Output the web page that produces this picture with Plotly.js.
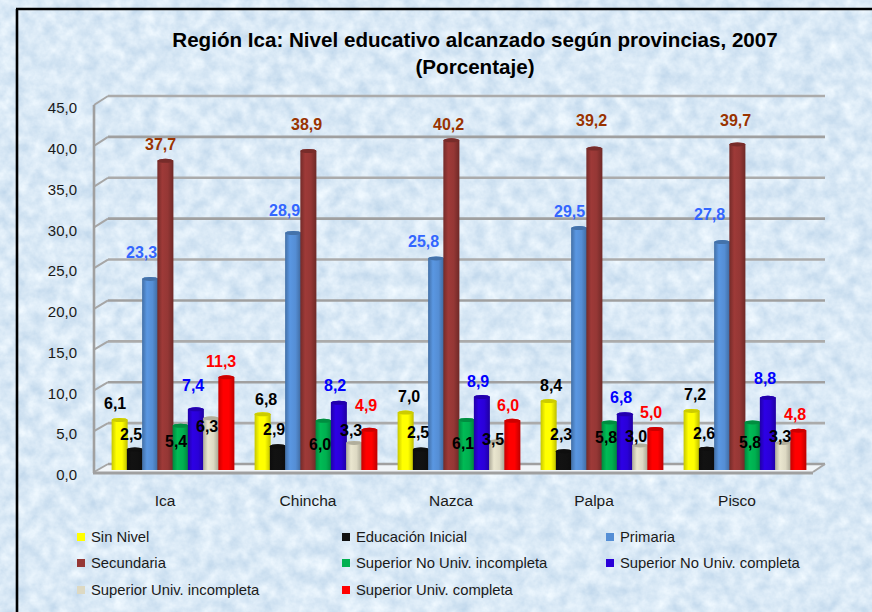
<!DOCTYPE html>
<html><head><meta charset="utf-8">
<script src="https://cdn.plot.ly/plotly-3.0.1.min.js"></script>
<style>html,body{margin:0;padding:0;width:872px;height:612px;overflow:hidden;background:#dbe8f5}
#bg{position:absolute;left:0;top:0}#chart{position:absolute;left:0;top:0;width:872px;height:612px}</style>
</head><body>
<svg id="bg" width="872" height="612"><filter id="n" x="0" y="0" width="100%" height="100%" color-interpolation-filters="sRGB">
<feTurbulence type="fractalNoise" baseFrequency="0.07" numOctaves="4" seed="7"/>
<feColorMatrix values="0.24 0 0 0 0.735  0.17 0 0 0 0.83  0.1 0 0 0 0.915  0 0 0 0 1"/></filter>
<rect width="872" height="612" filter="url(#n)"/></svg>
<div id="chart"></div>
<script>
const provincias = ['Ica','Chincha','Nazca','Palpa','Pisco'];
const sinNivel        = [6.1,6.8,7.0,8.4,7.2];
const educInicial     = [2.5,2.9,2.5,2.3,2.6];
const primaria        = [23.3,28.9,25.8,29.5,27.8];
const secundaria      = [37.7,38.9,40.2,39.2,39.7];
const noUnivIncompl   = [5.4,6.0,6.1,5.8,5.8];
const noUnivCompl     = [7.4,8.2,8.9,6.8,8.8];
const univIncompl     = [6.3,3.3,3.5,3.0,3.3];
const univCompl       = [11.3,4.9,6.0,5.0,4.8];
const serieNombres = ['Sin Nivel','Educación Inicial','Primaria','Secundaria','Superior No Univ. incompleta','Superior No Univ. completa','Superior Univ. incompleta','Superior Univ. completa'];
const serieValores = [sinNivel,educInicial,primaria,secundaria,noUnivIncompl,noUnivCompl,univIncompl,univCompl];
const serieColores = ['#ffff00','#111111','#558ed5','#953735','#00b050','#2a00d8','#ddd9c3','#ff0000'];
const etiquetaColores = ['#000000','#000000','#3366ff','#993300','#000000','#0000ff','#000000','#ff0000'];
const yTicks = [0,5,10,15,20,25,30,35,40,45];
const titulo = 'Región Ica: Nivel educativo alcanzado según provincias, 2007<br>(Porcentaje)';

// label offsets relative to each bar's centre/top, px [dx, dy] by series, then province
const labelDx = [[-5,3,3,2,3],[-4,-4,-3,-3,-3],[-9,-9,-13,-10,-13],[-5,-2,-3,-3,-2],[-5,-4,-4,-4,-3],[-3,-4,-4,-4,-3],[-4,-3,-4,-4,-3],[-5,-3,-4,-4,-3]];
const labelDy = [[-16,-15,-16,-16,-16],[-15,-17,-17,-17,-15],[-26,-23,-17,-17,-28],[-16,-27,-16,-28,-24],[16,24,24,15,20],[-24,-17,-16,-17,-19],[8,-12,-2,-9,-6],[-16,-24,-15,-17,-16]];

const W=872,H=612, font='"Liberation Sans", Arial, sans-serif';
const px=x=>x/W, py=y=>1-y/H;
const barStep=15.25;
const backY=v=>464-v*8.178, frontY=v=>472-v*8.155;
const shapes=[];
const line=(x0,y0,x1,y1,color,width)=>shapes.push({type:'line',xref:'paper',yref:'paper',x0:px(x0),y0:py(y0),x1:px(x1),y1:py(y1),line:{color,width},layer:'below'});
// frame
line(17,612,17,9,'#000',2.6); line(16,9,872,9,'#000',2.4);
// floor
shapes.push({type:'path',xref:'paper',yref:'paper',layer:'below',fillcolor:'#f1f5f8',line:{width:0},
 path:`M${px(94)},${py(472)}L${px(813)},${py(472)}L${px(825)},${py(464)}L${px(108)},${py(464)}Z`});
yTicks.forEach(v=>{
  line(108,backY(v),825,backY(v),v%10===0?'#a0a0a0':'#ababab',2.6);
  line(94,frontY(v),108,backY(v),'#a6a6a6',2);
});
line(813,472,825,464,'#a6a6a6',2);
line(93,473,813,473,'#a0a0a0',3);
line(94,frontY(45),94,473,'#a0a0a0',2.6);

const traces=serieValores.map((vals,i)=>({type:'bar',name:serieNombres[i],x:provincias,y:vals,
  marker:{color:serieColores[i],line:{width:0}},hoverinfo:'skip'}));
// axis carrying the front-wall tick labels
traces.push({type:'scatter',x:[],y:[],yaxis:'y2',showlegend:false,hoverinfo:'skip'});

const annotations=[];
serieValores.forEach((vals,i)=>vals.forEach((v,j)=>{
  annotations.push({x:provincias[j],y:v,xref:'x',yref:'y',showarrow:false,
    text:v.toFixed(1).replace('.',','),xanchor:'center',yanchor:'middle',
    xshift:(i-3.5)*barStep+labelDx[i][j],yshift:-labelDy[i][j],
    font:{family:font,size:16,color:etiquetaColores[i],weight:700}});
}));
// legend
const legX=[81,346,610], legY=[537,563,590];
serieNombres.forEach((n,i)=>{
  const c=i%3,r=Math.floor(i/3);
  shapes.push({type:'rect',xref:'paper',yref:'paper',layer:'above',fillcolor:serieColores[i],line:{width:0},
    x0:px(legX[c]-4),x1:px(legX[c]+4),y0:py(legY[r]-4),y1:py(legY[r]+4)});
  annotations.push({xref:'paper',yref:'paper',x:px(legX[c]+8),y:py(legY[r]),xanchor:'left',yanchor:'middle',showarrow:false,
    text:n,font:{family:font,size:14.8,color:'#1a1a1a'}});
});

const layout={width:W,height:H,margin:{l:0,r:0,t:0,b:0},paper_bgcolor:'rgba(0,0,0,0)',plot_bgcolor:'rgba(0,0,0,0)',
  showlegend:false,barmode:'group',bargap:0.147,bargroupgap:0,
  font:{family:font,color:'#1a1a1a'},
  title:{text:titulo,x:px(475),xanchor:'center',y:py(47),yanchor:'middle',font:{family:font,size:20.6,color:'#000',weight:700}},
  xaxis:{domain:[px(101.5),px(816.5)],range:[-0.5,4.5],type:'category',showgrid:false,zeroline:false,showline:false,
    ticks:'outside',ticklen:11,tickcolor:'rgba(0,0,0,0)',tickfont:{family:font,size:15.5,color:'#1a1a1a'},ticklabelshift:-8,anchor:'y2'},
  yaxis:{domain:[py(470),py(470-45*8.2)],range:[0,45],visible:false,fixedrange:true},
  yaxis2:{domain:[py(475),py(frontY(45)+3)],range:[0,45],anchor:'free',position:px(94),overlaying:false,
    tickvals:yTicks,ticktext:yTicks.map(v=>v.toFixed(1).replace('.',',')),showgrid:false,zeroline:false,
    showline:false,ticks:'outside',ticklen:14,tickcolor:'rgba(0,0,0,0)',
    tickfont:{family:font,size:15,color:'#1a1a1a'}},
  shapes,annotations};

function shade(hex,f){const n=parseInt(hex.slice(1),16);const c=[n>>16,(n>>8)&255,n&255].map(v=>Math.min(255,Math.round(v*f)));return `rgb(${c.join(',')})`;}
Plotly.newPlot('chart',traces,layout,{displayModeBar:false,staticPlot:true}).then(gd=>{
  const svg=gd.querySelector('.main-svg');
  const NS='http://www.w3.org/2000/svg';
  const defs=svg.querySelector('defs')||svg.insertBefore(document.createElementNS(NS,'defs'),svg.firstChild);
  serieColores.forEach((c,i)=>{
    const g=document.createElementNS(NS,'linearGradient');g.id='cyl'+i;
    [[0,0.78],[0.3,1.06],[0.65,1],[1,0.74]].forEach(([o,f])=>{
      const s=document.createElementNS(NS,'stop');s.setAttribute('offset',o);s.setAttribute('stop-color',shade(c,f));g.appendChild(s);});
    defs.appendChild(g);
  });
  gd.querySelectorAll('.barlayer .trace').forEach((tr,i)=>{
    tr.querySelectorAll('.point').forEach(pt=>{
      const p=pt.querySelector('path');const b=p.getBBox();const ry=2;const rx=b.width/2+0.4;
      const x0=b.x-0.4,x1=b.x+b.width+0.4,y0=b.y,y1=b.y+b.height;
      p.setAttribute('d',`M${x0},${y0}L${x0},${y1}A${rx},${ry} 0 0 0 ${x1},${y1}L${x1},${y0}A${rx},${ry} 0 0 0 ${x0},${y0}Z`);
      p.style.fill=`url(#cyl${i})`;p.style.fillOpacity=1;
      const e=document.createElementNS(NS,'ellipse');
      e.setAttribute('cx',(x0+x1)/2);e.setAttribute('cy',y0);e.setAttribute('rx',rx);e.setAttribute('ry',ry);
      e.setAttribute('fill',shade(serieColores[i],0.8));pt.appendChild(e);
    });
  });
});
</script>
</body></html>
